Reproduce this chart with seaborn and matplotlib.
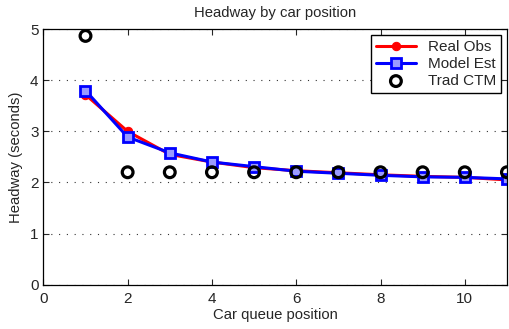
import matplotlib
matplotlib.use("Agg")
import matplotlib.pyplot as plt
import seaborn as sns
import pandas as pd

positions = [1, 2, 3, 4, 5, 6, 7, 8, 9, 10, 11]
real_obs = [3.72, 3.00, 2.55, 2.40, 2.29, 2.23, 2.19, 2.15, 2.12, 2.10, 2.05]
model_est = [3.80, 2.89, 2.58, 2.40, 2.31, 2.22, 2.18, 2.14, 2.11, 2.10, 2.07]
trad_ctm = [4.87, 2.20, 2.20, 2.20, 2.20, 2.20, 2.20, 2.20, 2.20, 2.20, 2.20]

sns.set_style("ticks")
plt.rcParams["font.family"] = ["Liberation Sans", "DejaVu Sans"]
plt.rcParams["xtick.direction"] = "in"
plt.rcParams["ytick.direction"] = "in"

df = pd.DataFrame({"pos": positions, "real": real_obs, "model": model_est, "trad": trad_ctm})

fig = plt.figure(figsize=(5.1, 3.29), dpi=100)
ax = fig.add_axes([0.085, 0.135, 0.909, 0.776])

sns.lineplot(data=df, x="pos", y="real", ax=ax, color="red", linewidth=2.2,
             marker="o", markersize=6, markeredgecolor="red", label="Real Obs")
sns.lineplot(data=df, x="pos", y="model", ax=ax, color="blue", linewidth=2.2,
             marker="s", markersize=6.5, markerfacecolor="#9a9aff", markeredgecolor="blue",
             markeredgewidth=2.0, label="Model Est")
sns.scatterplot(data=df, x="pos", y="trad", ax=ax, marker="o", s=60,
                facecolors="none", edgecolors="black", linewidths=2.3, label="Trad CTM",
                zorder=5)

ax.set_xlim(0, 11)
ax.set_ylim(0, 5)
ax.set_xticks([0, 2, 4, 6, 8, 10])
ax.set_yticks([0, 1, 2, 3, 4, 5])
ax.tick_params(labelsize=11, top=True, right=True, length=4, width=0.8)
ax.tick_params(axis="x", pad=5)
ax.yaxis.grid(True, linestyle=(0, (1, 6)), color="#333333", linewidth=0.8)
for s in ax.spines.values():
    s.set_visible(True)
    s.set_linewidth(0.9)
    s.set_color("black")

ax.set_title("Headway by car position", fontsize=10.7, pad=9)
ax.set_xlabel("Car queue position", fontsize=10.7, labelpad=2)
ax.set_ylabel("Headway (seconds)", fontsize=10.7, labelpad=5)

leg = ax.legend(loc="upper right", fontsize=11, frameon=True, fancybox=False,
                edgecolor="black", framealpha=1, borderaxespad=0.4,
                handlelength=2.6, labelspacing=0.2, borderpad=0.3)
leg.get_frame().set_linewidth(1.0)

fig.savefig("out.png", dpi=100)
